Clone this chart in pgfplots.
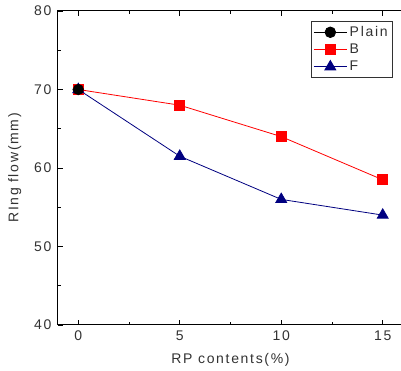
\documentclass[border=0pt]{standalone}
\usepackage{pgfplots}
\pgfplotsset{compat=1.18}
\usepackage{fontspec}
\setmainfont{Liberation Sans}[LetterSpace=12]
\definecolor{navyF}{RGB}{0,0,128}
\definecolor{txt}{RGB}{50,50,50}
\newcommand{\cf}{\fontsize{14}{16}\selectfont}
\begin{document}
\begin{tikzpicture}
\begin{axis}[name=ax, scale only axis, width=345pt, height=314pt,
 xmin=-1, xmax=16, ymin=40, ymax=80,
 xtick={0,5,10,15}, ytick={40,50,60,70,80},
 minor xtick={2.5,7.5,12.5}, minor ytick={45,55,65,75},
 ytick pos=left, xtick pos=both,
 major tick length=5pt, minor tick length=3pt,
 tick style={black, line width=0.8pt},
 axis line style={line width=1pt},
 /pgf/number format/assume math mode=true,
 tick label style={font=\cf, text=txt},
 xticklabel style={yshift=-2pt},
 yticklabel style={xshift=-3pt},
 xlabel={RP contents(\%)}, ylabel={RIng flow(mm)},
 label style={font=\cf, text=txt},
 xlabel style={at={(axis description cs:0.5,-0.111)}, anchor=center},
 ylabel style={at={(axis description cs:-0.125,0.5)}, anchor=center},
 legend style={at={(0.971,0.968)}, anchor=north east, draw=txt, line width=0.8pt, font=\cf, text=txt, row sep=1pt, inner sep=2.5pt, nodes={inner sep=2.5pt}},
 legend cell align=left,
 legend image code/.code={\draw[mark repeat=2,mark phase=2] plot coordinates {(0pt,0pt)(16.5pt,0pt)(33pt,0pt)};},
]
\addplot[black, line width=0.8pt, mark=*, mark size=5.3pt] coordinates {(0,70)};
\addlegendentry{Plain}
\addplot[red, line width=0.8pt, mark=square*, mark size=5pt, mark options={fill=red}] coordinates {(0,70) (5,68) (10,64) (15,58.5)};
\addlegendentry{B}
\addplot[navyF, line width=0.8pt, mark=triangle*, mark size=6.3pt, mark options={fill=navyF}] coordinates {(0,70) (5,61.5) (10,56) (15,54)};
\addlegendentry{F}
\addplot[black, mark=*, mark size=5.3pt, forget plot] coordinates {(0,70)};
\end{axis}
\pgfresetboundingbox
\path[use as bounding box] ([xshift=-58pt,yshift=-46pt]ax.south west) rectangle ([xshift=-2pt,yshift=11pt]ax.north east);
\end{tikzpicture}
\end{document}
